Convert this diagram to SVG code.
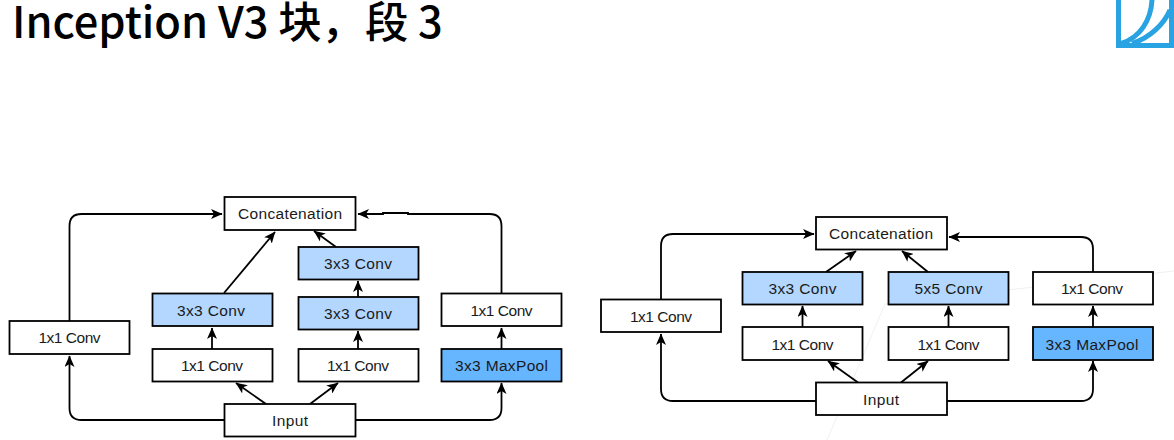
<svg xmlns="http://www.w3.org/2000/svg" width="1174" height="440" viewBox="0 0 1174 440">
<defs>
<marker id="a" viewBox="0 0 12 10" refX="11" refY="5" markerWidth="12" markerHeight="10" markerUnits="userSpaceOnUse" orient="auto"><path d="M0 0L11.500 5L0 10L3 5Z" fill="#000"/></marker>
</defs>
<style>
.b{stroke:#000;stroke-width:1.8}
.w{fill:#fff}.l{fill:#b3d7ff}.d{fill:#66b5ff}
text{font-family:"Liberation Sans",Arial,sans-serif;font-size:15.500px;fill:#1a1a1a;text-anchor:middle;dominant-baseline:central}
.c{fill:none;stroke:#000;stroke-width:1.8;marker-end:url(#a)}
.t{font-family:"Noto Sans CJK SC","Noto Sans",sans-serif;font-size:43.400px;font-weight:500;fill:#000;text-anchor:start;dominant-baseline:auto}
</style>
<rect width="1174" height="440" fill="#fff"/>
<path d="M827 440L885 304M885 304L1174 271" fill="none" stroke="#f0f0f0" stroke-width="1"/>
<text class="t" x="12" y="38">Inception V3 块，段 3</text>
<g id="logo" fill="none" stroke="#29a3e2" stroke-width="5">
<path d="M1118.500 0V45.500H1171.500V0"/>
<path d="M1121 43.500C1140 38 1151 20 1152 0"/>
<path d="M1132 43.500C1150 38 1164 24 1170 10"/>
</g>
<g id="connectors">
<path class="c" d="M69.500 321V226Q69.500 214 81.500 214H222"/>
<path class="c" d="M224 420H81.500Q69.500 420 69.500 408V356"/>
<path class="c" d="M212 349V328"/>
<path class="c" d="M224 293L275 232"/>
<path class="c" d="M266 404L236 383"/>
<path class="c" d="M358 349V331"/>
<path class="c" d="M358 297V281"/>
<path class="c" d="M336 247L314 231"/>
<path class="c" d="M310 404L338 383"/>
<path class="c" d="M355 420H489.500Q501.500 420 501.500 408V383"/>
<path class="c" d="M501.500 349V328"/>
<path class="c" d="M501.500 293V226Q501.500 214 489.500 214H408V213H383V214H358"/>
<path class="c" d="M661 299V246Q661 234 673 234H814"/>
<path class="c" d="M816 401H673Q661 401 661 389V334"/>
<path class="c" d="M802.500 327V306"/>
<path class="c" d="M826 272L856 251"/>
<path class="c" d="M858 382.500L828 361"/>
<path class="c" d="M948.500 327V306"/>
<path class="c" d="M928 272L902 251"/>
<path class="c" d="M901 382.500L928 361"/>
<path class="c" d="M947 401H1081Q1093 401 1093 389V361"/>
<path class="c" d="M1093 327V306"/>
<path class="c" d="M1093 272V249Q1093 237 1081 237H949"/>
</g>
<g id="l-concat"><rect class="b w" x="224.500" y="197" width="131" height="33"/><text x="290" y="213.500" textLength="104">Concatenation</text></g>
<g id="l-conv-a"><rect class="b w" x="9.500" y="321" width="120" height="33"/><text x="69.500" y="337.500" textLength="62">1x1 Conv</text></g>
<g id="l-conv-b2"><rect class="b l" x="152.500" y="293.500" width="120" height="32.500"/><text x="211" y="310" textLength="68">3x3 Conv</text></g>
<g id="l-conv-b1"><rect class="b w" x="152.500" y="349" width="120" height="32.500"/><text x="212" y="365.500" textLength="62">1x1 Conv</text></g>
<g id="l-conv-c3"><rect class="b l" x="298.500" y="247" width="120" height="32.500"/><text x="358" y="263.500" textLength="68">3x3 Conv</text></g>
<g id="l-conv-c2"><rect class="b l" x="298.500" y="297" width="120" height="32.500"/><text x="358" y="313.500" textLength="68">3x3 Conv</text></g>
<g id="l-conv-c1"><rect class="b w" x="298.500" y="349" width="120" height="32.500"/><text x="358" y="365.500" textLength="62">1x1 Conv</text></g>
<g id="l-conv-d"><rect class="b w" x="441.500" y="293.500" width="120" height="32.500"/><text x="501.500" y="310" textLength="62">1x1 Conv</text></g>
<g id="l-pool"><rect class="b d" x="441.500" y="349" width="120" height="32.500"/><text x="501.500" y="365.500" textLength="93">3x3 MaxPool</text></g>
<g id="l-input"><rect class="b w" x="224.500" y="404" width="131" height="32.500"/><text x="290" y="420.500" textLength="36">Input</text></g>
<g id="r-concat"><rect class="b w" x="816" y="217" width="131" height="32.500"/><text x="881" y="233.500" textLength="104">Concatenation</text></g>
<g id="r-conv-a"><rect class="b w" x="601" y="299.500" width="120" height="32.500"/><text x="661" y="316" textLength="62">1x1 Conv</text></g>
<g id="r-conv-b2"><rect class="b l" x="742.500" y="272" width="120" height="32.500"/><text x="802.500" y="288.500" textLength="68">3x3 Conv</text></g>
<g id="r-conv-b1"><rect class="b w" x="742.500" y="327" width="120" height="33"/><text x="802.500" y="344" textLength="62">1x1 Conv</text></g>
<g id="r-conv-c2"><rect class="b l" x="888.500" y="272" width="120" height="32.500"/><text x="948.500" y="288.500" textLength="68">5x5 Conv</text></g>
<g id="r-conv-c1"><rect class="b w" x="888.500" y="327" width="120" height="33"/><text x="948.500" y="344" textLength="62">1x1 Conv</text></g>
<g id="r-conv-d"><rect class="b w" x="1033" y="272" width="120" height="32.500"/><text x="1092" y="288.500" textLength="62">1x1 Conv</text></g>
<g id="r-pool"><rect class="b d" x="1033" y="327" width="120" height="33"/><text x="1092" y="344" textLength="93">3x3 MaxPool</text></g>
<g id="r-input"><rect class="b w" x="816" y="382.500" width="131" height="32.500"/><text x="881" y="399.500" textLength="36">Input</text></g>
</svg>
